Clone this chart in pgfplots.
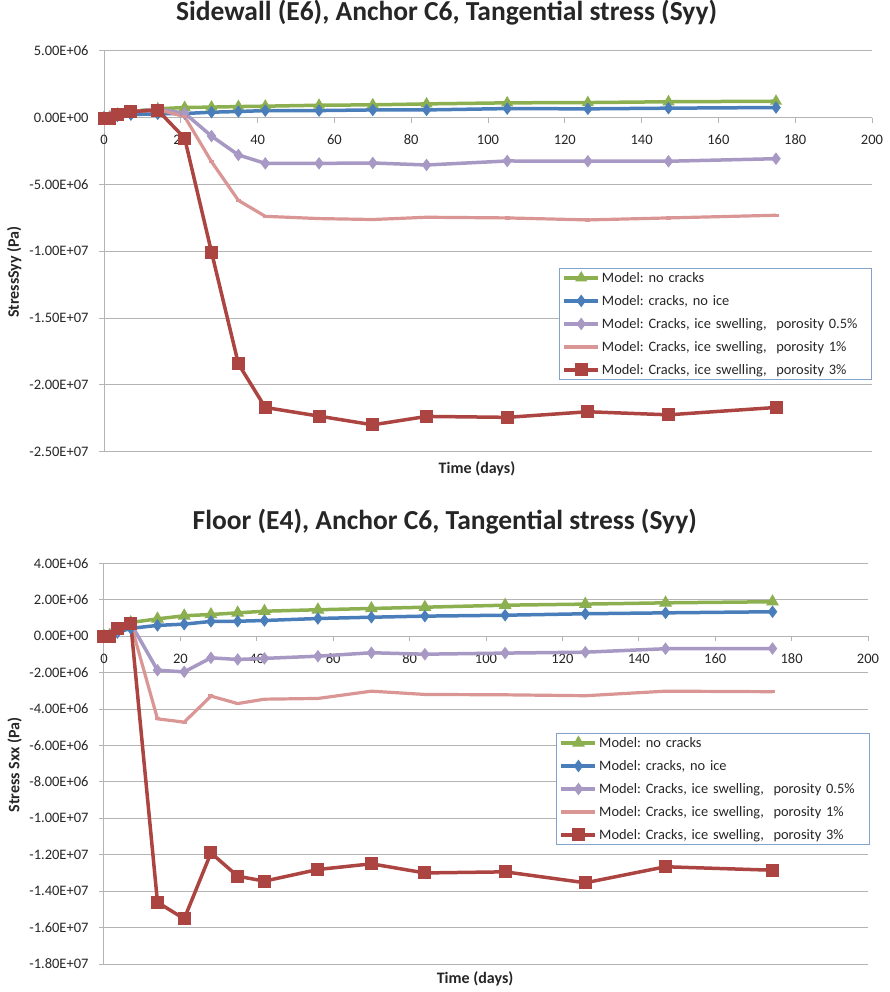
\documentclass[border=0pt]{standalone}
\usepackage{fontspec}
\setmainfont{Carlito}
\usepackage{pgfplots}
\usepackage{pgfplotstable}
\pgfplotsset{compat=1.18}

\definecolor{cNoCracks}{RGB}{140,176,80}
\definecolor{cNoIce}{RGB}{74,126,187}
\definecolor{cPorHalf}{RGB}{168,152,196}
\definecolor{cPorOne}{RGB}{217,150,148}
\definecolor{cPorThree}{RGB}{172,68,65}
\definecolor{gridgray}{RGB}{180,180,180}
\definecolor{legendblue}{RGB}{133,162,204}

% Time (days) and stress (Pa) for each model variant
\pgfplotstableread{
t    nc      cn      p05      p1       p3
0    0       0       0        0        -0.10e6
1.5  0.05e6  0.02e6  0.05e6   0.05e6   -0.10e6
3.5  0.25e6  0.12e6  0.25e6   0.25e6   0.20e6
7    0.45e6  0.22e6  0.45e6   0.45e6   0.45e6
14   0.65e6  0.28e6  0.62e6   0.60e6   0.55e6
21   0.75e6  0.30e6  0.33e6   0.07e6   -1.54e6
28   0.78e6  0.40e6  -1.39e6  -3.30e6  -10.07e6
35   0.82e6  0.45e6  -2.80e6  -6.20e6  -18.43e6
42   0.85e6  0.52e6  -3.43e6  -7.39e6  -21.69e6
56   0.92e6  0.52e6  -3.43e6  -7.56e6  -22.34e6
70   0.95e6  0.57e6  -3.40e6  -7.63e6  -22.99e6
84   1.02e6  0.57e6  -3.55e6  -7.46e6  -22.36e6
105  1.10e6  0.67e6  -3.25e6  -7.51e6  -22.43e6
126  1.12e6  0.65e6  -3.27e6  -7.66e6  -22.01e6
147  1.18e6  0.70e6  -3.27e6  -7.51e6  -22.24e6
175  1.22e6  0.75e6  -3.08e6  -7.31e6  -21.69e6
}\sidewall

\pgfplotstableread{
t    nc      cn      p05      p1       p3
0    0       0       0        0        -0.03e6
1.5  0.05e6  0.05e6  0.05e6   0.05e6   -0.03e6
3.5  0.35e6  0.20e6  0.35e6   0.35e6   0.44e6
7    0.75e6  0.43e6  0.70e6   0.70e6   0.70e6
14   0.95e6  0.59e6  -1.87e6  -4.54e6  -14.61e6
21   1.12e6  0.66e6  -1.96e6  -4.72e6  -15.52e6
28   1.19e6  0.81e6  -1.19e6  -3.29e6  -11.90e6
35   1.28e6  0.82e6  -1.28e6  -3.70e6  -13.18e6
42   1.37e6  0.86e6  -1.22e6  -3.46e6  -13.45e6
56   1.45e6  0.97e6  -1.10e6  -3.42e6  -12.81e6
70   1.52e6  1.04e6  -0.91e6  -3.02e6  -12.50e6
84   1.59e6  1.10e6  -0.99e6  -3.20e6  -13.00e6
105  1.70e6  1.15e6  -0.93e6  -3.22e6  -12.94e6
126  1.76e6  1.23e6  -0.88e6  -3.27e6  -13.54e6
147  1.83e6  1.28e6  -0.69e6  -3.02e6  -12.66e6
175  1.89e6  1.34e6  -0.68e6  -3.05e6  -12.85e6
}\floor

\pgfplotsset{
  stresschart/.style={
    scale only axis,
    xmin=0, xmax=200,
    xtick={0,20,...,200},
    axis x line*=middle,
    axis y line*=left,
    hide obscured x ticks=false,
    axis line style={gridgray, line width=1pt, -},
    ymajorgrids,
    grid style={gridgray, line width=1pt},
    tick style={gridgray, line width=1pt},
    major tick length=5pt,
    tick align=outside,
    /pgf/number format/assume math mode=true,
    scaled y ticks=false,
    tick label style={font=\fontsize{14.5}{16}\selectfont, text=black!85},
    xticklabel style={yshift=-9pt},
    yticklabel style={xshift=-7pt},
    xlabel style={font=\fontsize{16}{18}\selectfont\bfseries, text=black!85},
    ylabel style={font=\fontsize{16}{18}\selectfont\bfseries, text=black!85},
    title style={font=\fontsize{27.5}{30}\selectfont\bfseries, text=black!85},
    legend cell align=left,
    legend image code/.code={
      \draw[mark repeat=2, mark phase=2] plot coordinates {(0pt,0pt) (17pt,0pt) (34pt,0pt)};
    },
    legend style={
      draw=legendblue, line width=1pt,
      font=\fontsize{14.4}{16}\selectfont\frenchspacing,
      text=black!85,
      anchor=north west,
      inner xsep=3pt, inner ysep=2pt,
      row sep=7.5pt,
      /tikz/every even column/.append style={text width=265pt, align=left},
    },
  },
  sNoCracks/.style={color=cNoCracks, line width=3.5pt, mark=triangle*},
  sNoIce/.style={color=cNoIce, line width=3.5pt, mark=diamond*, mark size=5.5pt, mark options={line width=1pt}},
  sPorHalf/.style={color=cPorHalf, line width=3.5pt, mark=diamond*, mark size=5.5pt, mark options={line width=1pt}},
  sPorOne/.style={color=cPorOne, line width=3.2pt, mark=-, mark size=2.5pt},
  sPorThree/.style={color=cPorThree, line width=3.5pt, mark=square*, mark size=6pt, mark options={line width=1pt}},
}

\begin{document}
\begin{tikzpicture}
\path[use as bounding box] (0pt,0pt) rectangle (889pt,-992pt);

% Sidewall
\begin{axis}[
  stresschart,
  at={(104pt,-451.7pt)}, anchor=south west,
  width=768pt, height=401pt,
  ymin=-2.5e7, ymax=5e6,
  ytick={-2.5e7,-2e7,-1.5e7,-1e7,-5e6,0,5e6},
  yticklabels={-2.50E+07,-2.00E+07,-1.50E+07,-1.00E+07,-5.00E+06,0.00E+00,5.00E+06},
  title={Sidewall (E6), Anchor C6, Tangential stress (Syy)},
  title style={at={(axis description cs:0.446,1)}, anchor=center, yshift=32pt},
  xlabel={Time (days)},
  xlabel style={at={(axis description cs:0.4857,0)}, anchor=center, yshift=-17pt},
  ylabel={StressSyy (Pa)},
  ylabel style={at={(axis description cs:-0.117,0.448)}, anchor=center},
  legend style={at={(rel axis cs:0.5924,0.4589)}},
]
\addplot[sNoCracks, mark size=3.5pt] table[x=t, y=nc] {\sidewall};
\addlegendentry{Model: no cracks}
\addplot[sNoIce] table[x=t, y=cn] {\sidewall};
\addlegendentry{Model: cracks, no ice}
\addplot[sPorHalf] table[x=t, y=p05] {\sidewall};
\addlegendentry{Model: Cracks, ice swelling,\ \ porosity 0.5\%}
\addplot[sPorOne] table[x=t, y=p1] {\sidewall};
\addlegendentry{Model: Cracks, ice swelling,\ \ porosity 1\%}
\addplot[sPorThree] table[x=t, y=p3] {\sidewall};
\addlegendentry{Model: Cracks, ice swelling,\ \ porosity 3\%}
\end{axis}

% Floor
\begin{axis}[
  stresschart,
  at={(104pt,-964pt)}, anchor=south west,
  width=764pt, height=400.7pt,
  ymin=-1.8e7, ymax=4e6,
  ytick={-1.8e7,-1.6e7,-1.4e7,-1.2e7,-1e7,-8e6,-6e6,-4e6,-2e6,0,2e6,4e6},
  yticklabels={-1.80E+07,-1.60E+07,-1.40E+07,-1.20E+07,-1.00E+07,-8.00E+06,-6.00E+06,-4.00E+06,-2.00E+06,0.00E+00,2.00E+06,4.00E+06},
  title={Floor (E4), Anchor C6, Tangential stress (Syy)},
  title style={at={(axis description cs:0.446,1)}, anchor=center, yshift=36pt},
  xlabel={Time (days)},
  xlabel style={at={(axis description cs:0.4857,0)}, anchor=center, yshift=-15pt},
  ylabel={Stress Sxx (Pa)},
  ylabel style={at={(axis description cs:-0.117,0.497)}, anchor=center},
  legend style={at={(rel axis cs:0.5919,0.5772)}},
]
\addplot[sNoCracks, mark size=6.5pt, mark options={line width=1pt}] table[x=t, y=nc] {\floor};
\addlegendentry{Model: no cracks}
\addplot[sNoIce] table[x=t, y=cn] {\floor};
\addlegendentry{Model: cracks, no ice}
\addplot[sPorHalf] table[x=t, y=p05] {\floor};
\addlegendentry{Model: Cracks, ice swelling,\ \ porosity 0.5\%}
\addplot[sPorOne] table[x=t, y=p1] {\floor};
\addlegendentry{Model: Cracks, ice swelling,\ \ porosity 1\%}
\addplot[sPorThree] table[x=t, y=p3] {\floor};
\addlegendentry{Model: Cracks, ice swelling,\ \ porosity 3\%}
\end{axis}
\end{tikzpicture}
\end{document}
